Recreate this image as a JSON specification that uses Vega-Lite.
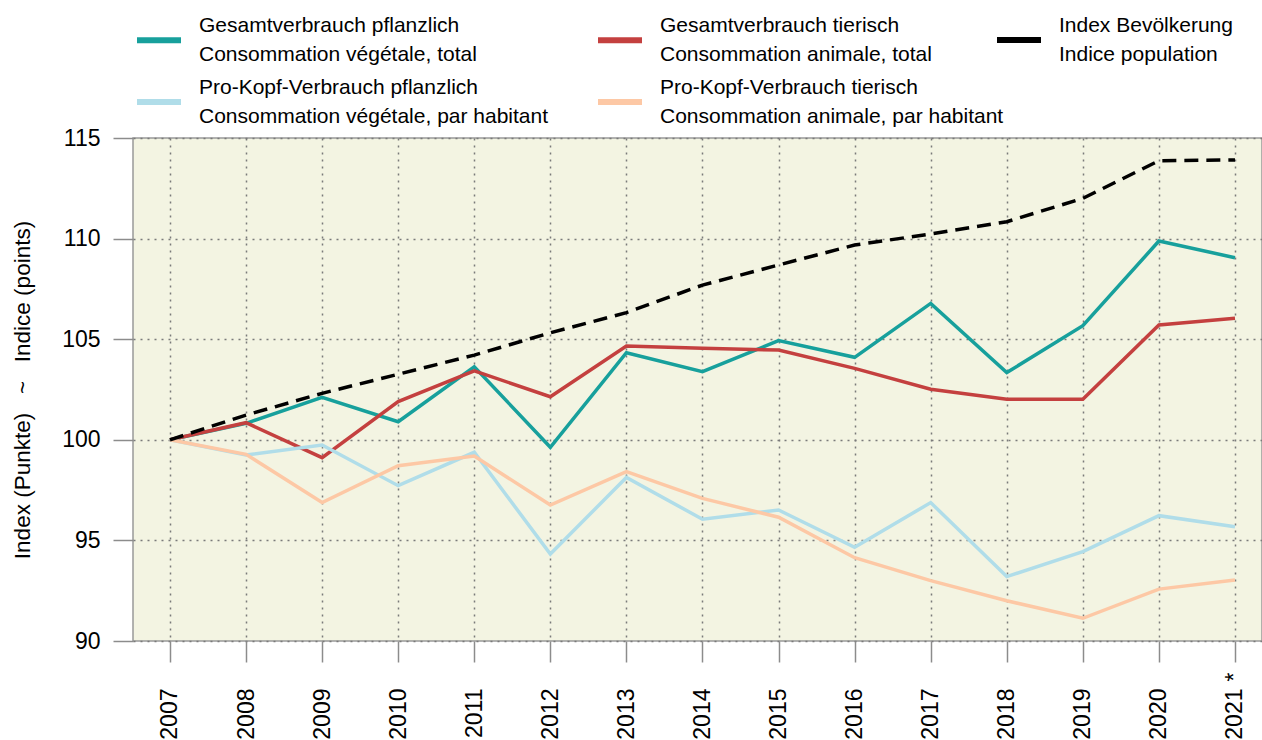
{
  "$schema": "https://vega.github.io/schema/vega-lite/v6.json",
  "autosize": {"type": "none"},
  "width": 1129,
  "height": 503,
  "padding": {"left": 133, "top": 138, "right": 0, "bottom": 99},
  "background": "white",
  "config": {
    "font": "Liberation Sans",
    "view": {"fill": "#f3f4e2", "stroke": "#999999", "strokeWidth": 1.5},
    "axis": {
      "labelFont": "Liberation Sans",
      "titleFont": "Liberation Sans",
      "labelColor": "#000000",
      "titleColor": "#000000",
      "labelFontSize": 23,
      "titleFontSize": 22.5,
      "titleFontWeight": "normal",
      "domain": false,
      "tickColor": "#8c8c8c",
      "tickWidth": 1.5,
      "gridColor": "#7a7a7a",
      "gridDash": [2, 5],
      "gridWidth": 1.5,
      "gridOpacity": 1
    },
    "legend": {
      "labelFont": "Liberation Sans",
      "labelFontSize": 21,
      "labelColor": "#000000",
      "labelLimit": 600,
      "symbolType": "stroke",
      "symbolSize": 1936,
      "symbolStrokeWidth": 6,
      "symbolOpacity": 1,
      "labelOffset": 15,
      "padding": 0,
      "rowPadding": 11,
      "columnPadding": 37
    }
  },
  "datasets": {
    "series": [
      {"year": 2007, "series": "A", "value": 100},
      {"year": 2008, "series": "A", "value": 100.82},
      {"year": 2009, "series": "A", "value": 102.11},
      {"year": 2010, "series": "A", "value": 100.9},
      {"year": 2011, "series": "A", "value": 103.63},
      {"year": 2012, "series": "A", "value": 99.63},
      {"year": 2013, "series": "A", "value": 104.33},
      {"year": 2014, "series": "A", "value": 103.39},
      {"year": 2015, "series": "A", "value": 104.93},
      {"year": 2016, "series": "A", "value": 104.1},
      {"year": 2017, "series": "A", "value": 106.78},
      {"year": 2018, "series": "A", "value": 103.34},
      {"year": 2019, "series": "A", "value": 105.67},
      {"year": 2020, "series": "A", "value": 109.88},
      {"year": 2021, "series": "A", "value": 109.05},
      {"year": 2007, "series": "B", "value": 100},
      {"year": 2008, "series": "B", "value": 100.85},
      {"year": 2009, "series": "B", "value": 99.11},
      {"year": 2010, "series": "B", "value": 101.9},
      {"year": 2011, "series": "B", "value": 103.43},
      {"year": 2012, "series": "B", "value": 102.14},
      {"year": 2013, "series": "B", "value": 104.66},
      {"year": 2014, "series": "B", "value": 104.55},
      {"year": 2015, "series": "B", "value": 104.46},
      {"year": 2016, "series": "B", "value": 103.55},
      {"year": 2017, "series": "B", "value": 102.51},
      {"year": 2018, "series": "B", "value": 102.01},
      {"year": 2019, "series": "B", "value": 102.01},
      {"year": 2020, "series": "B", "value": 105.71},
      {"year": 2021, "series": "B", "value": 106.04},
      {"year": 2007, "series": "C", "value": 100},
      {"year": 2008, "series": "C", "value": 99.24},
      {"year": 2009, "series": "C", "value": 99.74},
      {"year": 2010, "series": "C", "value": 97.72},
      {"year": 2011, "series": "C", "value": 99.38},
      {"year": 2012, "series": "C", "value": 94.32},
      {"year": 2013, "series": "C", "value": 98.13},
      {"year": 2014, "series": "C", "value": 96.05},
      {"year": 2015, "series": "C", "value": 96.51},
      {"year": 2016, "series": "C", "value": 94.66},
      {"year": 2017, "series": "C", "value": 96.88},
      {"year": 2018, "series": "C", "value": 93.2},
      {"year": 2019, "series": "C", "value": 94.44},
      {"year": 2020, "series": "C", "value": 96.23},
      {"year": 2021, "series": "C", "value": 95.68},
      {"year": 2007, "series": "D", "value": 100},
      {"year": 2008, "series": "D", "value": 99.28},
      {"year": 2009, "series": "D", "value": 96.88},
      {"year": 2010, "series": "D", "value": 98.71},
      {"year": 2011, "series": "D", "value": 99.19},
      {"year": 2012, "series": "D", "value": 96.76},
      {"year": 2013, "series": "D", "value": 98.42},
      {"year": 2014, "series": "D", "value": 97.09},
      {"year": 2015, "series": "D", "value": 96.15},
      {"year": 2016, "series": "D", "value": 94.14},
      {"year": 2017, "series": "D", "value": 93.0},
      {"year": 2018, "series": "D", "value": 92.0},
      {"year": 2019, "series": "D", "value": 91.13},
      {"year": 2020, "series": "D", "value": 92.58},
      {"year": 2021, "series": "D", "value": 93.03}
    ],
    "population": [
      {"year": 2007, "series": "P", "value": 100},
      {"year": 2008, "series": "P", "value": 101.23},
      {"year": 2009, "series": "P", "value": 102.31},
      {"year": 2010, "series": "P", "value": 103.26},
      {"year": 2011, "series": "P", "value": 104.21},
      {"year": 2012, "series": "P", "value": 105.32},
      {"year": 2013, "series": "P", "value": 106.32},
      {"year": 2014, "series": "P", "value": 107.69},
      {"year": 2015, "series": "P", "value": 108.69},
      {"year": 2016, "series": "P", "value": 109.68},
      {"year": 2017, "series": "P", "value": 110.23},
      {"year": 2018, "series": "P", "value": 110.84},
      {"year": 2019, "series": "P", "value": 112.0},
      {"year": 2020, "series": "P", "value": 113.87},
      {"year": 2021, "series": "P", "value": 113.91}
    ]
  },
  "encoding": {
    "y": {
      "field": "value",
      "type": "quantitative",
      "scale": {"domain": [90, 115], "nice": false, "zero": false},
      "axis": {
        "title": "Index (Punkte)\u00a0\u00a0\u00a0~\u00a0\u00a0\u00a0Indice (points)",
        "values": [90, 95, 100, 105, 110, 115],
        "tickSize": 20,
        "labelPadding": 13,
        "titlePadding": 27,
        "grid": true
      }
    }
  },
  "layer": [
    {
      "data": {"name": "series"},
      "mark": {"type": "line", "strokeWidth": 3.5, "clip": true},
      "encoding": {
        "x": {
          "field": "year",
          "type": "quantitative",
          "scale": {"domain": [2006.514, 2021.355], "nice": false, "zero": false},
          "axis": {
            "title": null,
            "orient": "bottom",
            "values": [2007, 2008, 2009, 2010, 2011, 2012, 2013, 2014, 2015, 2016, 2017, 2018, 2019, 2020, 2021],
            "format": "d",
            "labelAngle": 270,
            "labelAlign": "right",
            "labelBaseline": "middle",
            "tickSize": 21,
            "labelPadding": 26,
            "grid": true
          }
        },
        "color": {
          "field": "series",
          "type": "nominal",
          "scale": {
            "domain": ["A", "B", "C", "D"],
            "range": ["#17a09c", "#c4403f", "#b0dde9", "#fdc8a5"]
          },
          "legend": {
            "title": null,
            "orient": "none",
            "direction": "horizontal",
            "columns": 2,
            "legendX": 1,
            "legendY": -123,
            "labelExpr": "datum.value == 'A' ? ['Gesamtverbrauch pflanzlich', 'Consommation végétale, total'] : datum.value == 'B' ? ['Gesamtverbrauch tierisch', 'Consommation animale, total'] : datum.value == 'C' ? ['Pro-Kopf-Verbrauch pflanzlich', 'Consommation végétale, par habitant'] : ['Pro-Kopf-Verbrauch tierisch', 'Consommation animale, par habitant']",
            "encode": {"labels": {"update": {"lineHeight": {"value": 29}, "dy": {"value": -14.5}}}}
          }
        },
        "order": {"field": "year", "type": "quantitative"}
      }
    },
    {
      "data": {"name": "population"},
      "mark": {"type": "line", "strokeWidth": 3.5, "strokeDash": [14, 8], "clip": true},
      "encoding": {
        "x": {
          "field": "year",
          "type": "quantitative",
          "scale": {"domain": [2006.514, 2021.355], "nice": false, "zero": false},
          "axis": {
            "title": null,
            "orient": "bottom",
            "values": [2021],
            "labelExpr": "'*'",
            "labelAngle": 270,
            "labelAlign": "right",
            "labelBaseline": "middle",
            "ticks": false,
            "grid": false,
            "domain": false,
            "labelPadding": 31
          }
        },
        "color": {
          "field": "series",
          "type": "nominal",
          "scale": {"domain": ["P"], "range": ["#000000"]},
          "legend": {
            "title": null,
            "orient": "none",
            "direction": "horizontal",
            "legendX": 861,
            "legendY": -123,
            "labelExpr": "['Index Bevölkerung', 'Indice population']",
            "encode": {"labels": {"update": {"lineHeight": {"value": 29}, "dy": {"value": -14.5}}}}
          }
        },
        "order": {"field": "year", "type": "quantitative"}
      }
    }
  ],
  "resolve": {
    "scale": {"color": "independent"},
    "legend": {"color": "independent"},
    "axis": {"x": "independent"}
  }
}
